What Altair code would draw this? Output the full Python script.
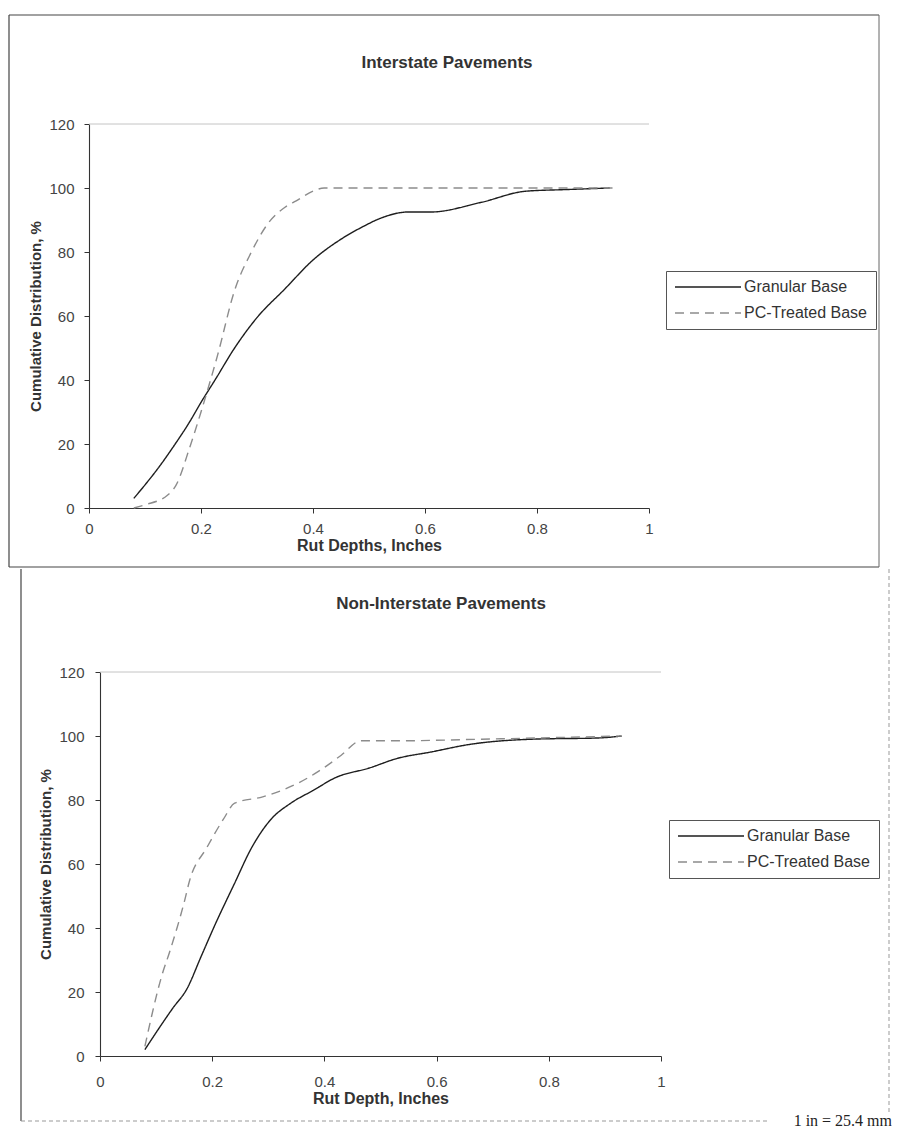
import altair as alt
import pandas as pd

# ---------------- data ----------------
series_names = ["Granular Base", "PC-Treated Base"]

# Interstate pavements
top_gran_x = [0.08, 0.13, 0.15, 0.18, 0.20, 0.225, 0.26, 0.30, 0.35, 0.40, 0.45, 0.49, 0.52, 0.57, 0.61, 0.70, 0.78, 0.85, 0.93]
top_gran_y = [3, 14, 19, 27, 33, 40, 50, 59.5, 68.5, 77.5, 84, 88, 90.5, 92.5, 92.5, 95.5, 99, 99.5, 100]
top_pc_x = [0.08, 0.10, 0.14, 0.155, 0.18, 0.20, 0.23, 0.26, 0.29, 0.32, 0.35, 0.37, 0.40, 0.42, 0.60, 0.80, 0.94]
top_pc_y = [0, 1, 4, 7, 19, 30, 48, 68, 80, 89, 94, 96, 99, 100, 100, 100, 100]

# Non-interstate pavements
bot_gran_x = [0.08, 0.13, 0.155, 0.18, 0.205, 0.24, 0.27, 0.305, 0.34, 0.38, 0.42, 0.48, 0.53, 0.59, 0.66, 0.77, 0.89, 0.93]
bot_gran_y = [2, 15, 21, 31, 41, 54, 65, 74, 79, 83, 87, 90, 93, 95, 97.4, 99, 99.4, 100]
bot_pc_x = [0.08, 0.11, 0.125, 0.15, 0.16, 0.19, 0.22, 0.24, 0.29, 0.35, 0.39, 0.43, 0.465, 0.53, 0.68, 0.93]
bot_pc_y = [3, 25, 33, 48, 55, 65, 74, 79, 81, 85, 89, 94, 98.5, 98.5, 99, 100]

x_ticks = [0, 0.2, 0.4, 0.6, 0.8, 1]
y_ticks = [0, 20, 40, 60, 80, 100, 120]

FONT = "Liberation Sans"
H = 384
one = pd.DataFrame({"k": [0]})

AX = dict(domainColor="#333", domainWidth=1.1, tickColor="#333", tickSize=5, tickWidth=1,
          labelFont=FONT, labelFontSize=15, labelColor="#444",
          titleFont=FONT, titleFontWeight="bold", titleColor="#333", grid=False)


def make_df(gx, gy, px, py):
    a = pd.DataFrame({"x": gx, "y": gy, "s": series_names[0], "o": list(range(len(gx)))})
    b = pd.DataFrame({"x": px, "y": py, "s": series_names[1], "o": list(range(len(px)))})
    return pd.concat([a, b], ignore_index=True)


def hline(x1, x2, y, color="#444", width=1.2, dash=None):
    kw = dict(color=color, strokeWidth=width)
    if dash:
        kw["strokeDash"] = dash
    return alt.Chart(one).mark_rule(**kw).encode(x=alt.value(x1), x2=alt.value(x2), y=alt.value(y))


def vline(x, y1, y2, color="#444", width=1.2, dash=None):
    kw = dict(color=color, strokeWidth=width)
    if dash:
        kw["strokeDash"] = dash
    return alt.Chart(one).mark_rule(**kw).encode(x=alt.value(x), y=alt.value(y1), y2=alt.value(y2))


def panel(df, title, title_xy, xtitle, legend_xy, x_lab_pad, y_lab_pad, x_range, y_off, extras):
    leg = alt.Legend(
        orient="none", legendX=legend_xy[0], legendY=legend_xy[1],
        symbolType="stroke", symbolSize=4356, symbolStrokeWidth=1.3,
        clipHeight=16, rowPadding=10, padding=8, strokeColor="#555",
        labelFont=FONT, labelFontSize=16, labelColor="#333", labelOffset=2,
    )
    lines = alt.Chart(df).mark_line(interpolate="monotone", strokeWidth=1.4).encode(
        x=alt.X("x:Q", scale=alt.Scale(domain=[0, 1], nice=False, zero=False, range=x_range),
                axis=alt.Axis(values=x_ticks, format="~g", title=xtitle, titleFontSize=16,
                              labelPadding=x_lab_pad, titlePadding=1, labelFlush=False,
                              labelOverlap=False, **AX)),
        y=alt.Y("y:Q", scale=alt.Scale(domain=[0, 120], nice=False),
                axis=alt.Axis(values=y_ticks, format="d", title="Cumulative Distribution, %",
                              titleFontSize=15, labelPadding=y_lab_pad, titlePadding=5,
                              offset=y_off, **AX)),
        color=alt.Color("s:N", title=None,
                        scale=alt.Scale(domain=series_names, range=["#1e1e1e", "#8c8c8c"]),
                        legend=leg),
        strokeDash=alt.StrokeDash("s:N", title=None,
                                  scale=alt.Scale(domain=series_names, range=[[1, 0], [9, 6]]),
                                  legend=leg),
        order="o:Q",
    )
    topline = alt.Chart(one).mark_rule(color="#c4c4c4", strokeWidth=1).encode(
        x=alt.datum(0), x2=alt.datum(1), y=alt.datum(120))
    ttl = alt.Chart(one).mark_text(text=title, font=FONT, fontSize=17, fontWeight="bold",
                                   color="#333", align="center", baseline="middle").encode(
        x=alt.value(title_xy[0]), y=alt.value(title_xy[1]))
    return alt.layer(topline, lines, ttl, *extras).properties(width=x_range[1], height=H)


top_frame = [
    hline(-80, 790, -109),
    hline(-80, 790, 443),
    vline(-80, -109, 443),
    vline(790, -109, 443, color="#666", width=1),
]
bot_frame = [
    vline(-68, -103, 449),
    vline(800, -103, 440, color="#999", width=1, dash=[4, 3]),
    hline(-68, 681, 449, color="#999", width=1, dash=[4, 3]),
    alt.Chart(one).mark_text(text="1 in = 25.4 mm", font="Liberation Serif", fontSize=16,
                             color="#222", align="right", baseline="middle").encode(
        x=alt.value(803), y=alt.value(449)),
]

top = panel(make_df(top_gran_x, top_gran_y, top_pc_x, top_pc_y),
            "Interstate Pavements", (358, -61), "Rut Depths, Inches", (577, 147), 8, 10,
            [0, 560], 0, top_frame)
bottom = panel(make_df(bot_gran_x, bot_gran_y, bot_pc_x, bot_pc_y),
               "Non-Interstate Pavements", (352, -68), "Rut Depth, Inches", (580, 148), 13, 11,
               [11, 572], -11, bot_frame)

chart = alt.vconcat(top, bottom, spacing=0).resolve_scale(
    color="independent", strokeDash="independent"
).resolve_legend(
    color="independent", strokeDash="independent"
).properties(
    padding={"left": 0, "top": 6, "right": 0, "bottom": 0},
    background="white",
).configure_view(strokeWidth=0)

chart.save("out.html", embed_options={"renderer": "svg", "actions": False})
